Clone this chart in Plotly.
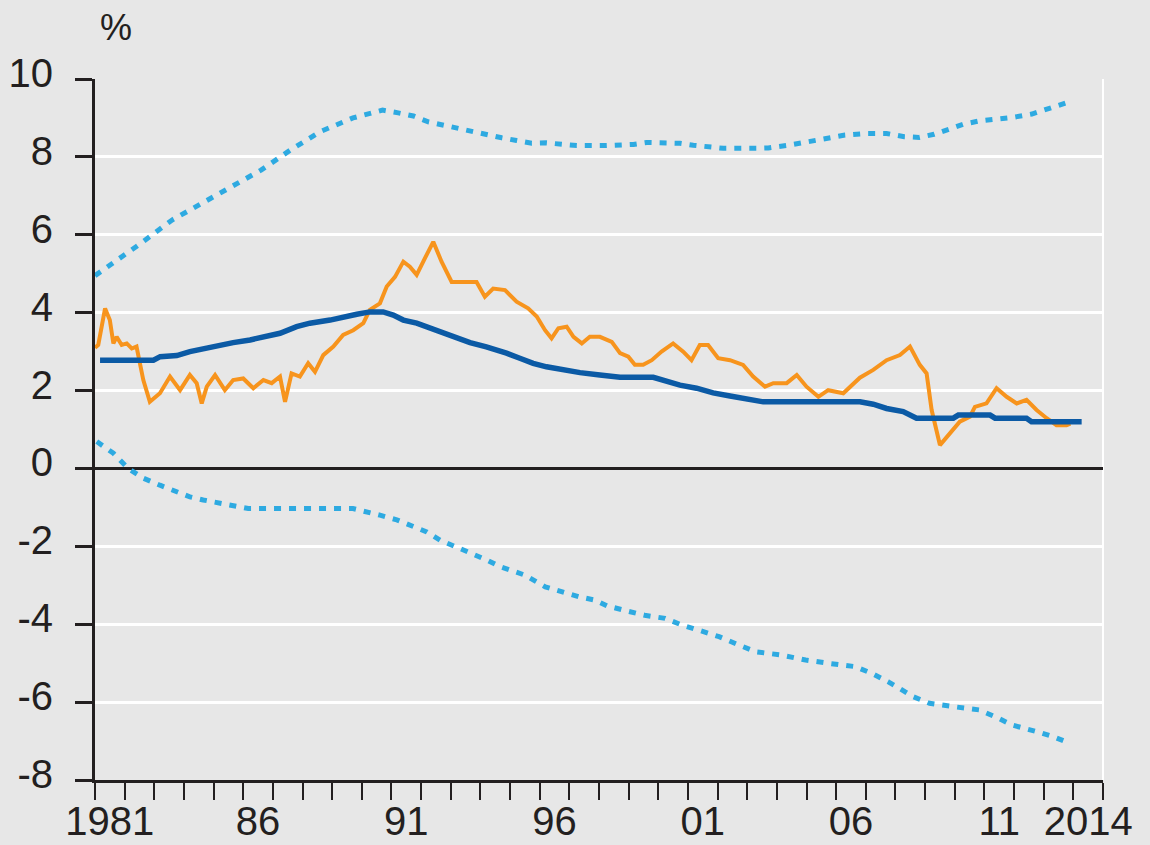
import plotly.graph_objects as go

# ---- data ---------------------------------------------------------------
tick_years = [1981.5, 1986.5, 1991.5, 1996.5, 2001.5, 2006.5, 2011.5, 2014.5]
tick_text = ["1981", "86", "91", "96", "01", "06", "11", "2014"]
year_bounds = list(range(1981, 2016))
y_ticks = [-8, -6, -4, -2, 0, 2, 4, 6, 8, 10]
y_tick_text = ["-8", "-6", "-4", "-2", "0", "2", "4", "6", "8", "10"]

actual_x = [1981.0, 1981.11, 1981.34, 1981.5, 1981.62, 1981.73, 1981.9, 1982.07, 1982.24, 1982.4,
            1982.63, 1982.85, 1983.19, 1983.53, 1983.87, 1984.2, 1984.43, 1984.6, 1984.77, 1985.05,
            1985.38, 1985.66, 1986.0, 1986.34, 1986.68, 1986.96, 1987.24, 1987.41, 1987.63, 1987.91,
            1988.19, 1988.42, 1988.7, 1989.04, 1989.37, 1989.71, 1990.05, 1990.27, 1990.61, 1990.84,
            1991.12, 1991.4, 1991.62, 1991.85, 1992.13, 1992.41, 1992.69, 1993.03, 1993.31, 1993.87,
            1994.15, 1994.43, 1994.83, 1995.22, 1995.61, 1995.9, 1996.18, 1996.4, 1996.63, 1996.91,
            1997.14, 1997.42, 1997.69, 1998.03, 1998.43, 1998.71, 1998.99, 1999.21, 1999.49, 1999.78,
            2000.11, 2000.5, 2000.84, 2001.12, 2001.4, 2001.68, 2002.02, 2002.42, 2002.86, 2003.2,
            2003.6, 2003.88, 2004.33, 2004.67, 2005.0, 2005.4, 2005.73, 2006.24, 2006.8, 2007.25,
            2007.7, 2008.15, 2008.49, 2008.82, 2009.05, 2009.22, 2009.5, 2009.84, 2010.17, 2010.51,
            2010.68, 2011.07, 2011.41, 2011.75, 2012.09, 2012.42, 2012.76, 2013.1, 2013.43, 2013.77,
            2013.9]
actual_y = [3.10, 3.17, 4.11, 3.81, 3.21, 3.38, 3.17, 3.21, 3.08, 3.13,
            2.27, 1.71, 1.93, 2.36, 2.01, 2.40, 2.19, 1.67, 2.10, 2.40,
            2.01, 2.27, 2.31, 2.06, 2.27, 2.19, 2.36, 1.71, 2.44, 2.36,
            2.70, 2.48, 2.91, 3.13, 3.43, 3.55, 3.73, 4.07, 4.24, 4.67,
            4.92, 5.31, 5.18, 4.97, 5.40, 5.82, 5.31, 4.79, 4.79, 4.79,
            4.41, 4.62, 4.58, 4.28, 4.11, 3.90, 3.55, 3.34, 3.60, 3.64,
            3.38, 3.21, 3.38, 3.38, 3.25, 2.96, 2.87, 2.66, 2.66, 2.78,
            3.00, 3.21, 3.00, 2.78, 3.17, 3.17, 2.83, 2.78, 2.66, 2.36,
            2.10, 2.19, 2.19, 2.40, 2.10, 1.84, 2.01, 1.93, 2.33, 2.53,
            2.78, 2.91, 3.13, 2.66, 2.44, 1.50, 0.60, 0.90, 1.20, 1.33,
            1.58, 1.67, 2.06, 1.84, 1.67, 1.76, 1.50, 1.29, 1.11, 1.11,
            1.15]

trend_x = [1981.17, 1982.97, 1983.2, 1983.76, 1984.2, 1984.65, 1985.1, 1985.66, 1986.23, 1986.68,
           1987.24, 1987.8, 1988.25, 1988.93, 1989.37, 1989.83, 1990.27, 1990.72, 1991.06, 1991.4,
           1991.85, 1992.3, 1992.75, 1993.2, 1993.65, 1994.2, 1994.5, 1994.88, 1995.33, 1995.78,
           1996.23, 1996.79, 1997.36, 1998.03, 1998.71, 1999.83, 2000.28, 2000.73, 2001.29, 2001.85,
           2002.42, 2002.98, 2003.54, 2006.8, 2007.25, 2007.7, 2008.26, 2008.71, 2009.95, 2010.12,
           2011.19, 2011.36, 2012.42, 2012.59, 2014.28]
trend_y = [2.78, 2.78, 2.87, 2.90, 3.00, 3.08, 3.14, 3.23, 3.30, 3.38,
           3.47, 3.64, 3.73, 3.81, 3.90, 3.96, 4.02, 4.02, 3.94, 3.81,
           3.73, 3.60, 3.47, 3.34, 3.23, 3.12, 3.06, 2.96, 2.83, 2.70,
           2.61, 2.53, 2.46, 2.40, 2.34, 2.34, 2.23, 2.14, 2.06, 1.94,
           1.86, 1.80, 1.71, 1.71, 1.65, 1.54, 1.46, 1.29, 1.29, 1.37,
           1.37, 1.29, 1.29, 1.20, 1.20]

upper_x = [1981.0, 1981.6, 1982.6, 1983.6, 1984.6, 1985.6, 1986.6, 1987.6, 1988.6, 1989.7,
           1990.7, 1991.23, 1991.74, 1992.24, 1992.69, 1993.2, 1993.7, 1994.21, 1994.72, 1995.22,
           1995.73, 1996.23, 1996.74, 1997.25, 1998.26, 1998.7, 1999.16, 1999.61, 2000.17, 2000.73,
           2001.18, 2001.74, 2002.19, 2003.32, 2003.71, 2004.4, 2005.0, 2005.6, 2006.3, 2007.0,
           2007.7, 2008.3, 2008.8, 2009.3, 2009.8, 2010.3, 2010.8, 2011.4, 2012.0, 2012.6,
           2013.2, 2013.9]
upper_y = [4.95, 5.27, 5.81, 6.38, 6.81, 7.23, 7.66, 8.18, 8.65, 9.00,
           9.20, 9.13, 9.05, 8.90, 8.82, 8.73, 8.66, 8.58, 8.49, 8.42,
           8.35, 8.36, 8.33, 8.29, 8.29, 8.29, 8.32, 8.37, 8.37, 8.35,
           8.30, 8.26, 8.22, 8.22, 8.23, 8.30, 8.38, 8.48, 8.56, 8.60,
           8.60, 8.52, 8.50, 8.58, 8.72, 8.84, 8.92, 8.96, 9.02, 9.10,
           9.25, 9.42]

lower_x = [1981.06, 1981.62, 1982.12, 1982.63, 1983.19, 1983.64, 1984.2, 1984.65, 1985.22, 1985.66,
           1986.17, 1989.7, 1990.16, 1990.61, 1991.18, 1991.62, 1992.19, 1992.64, 1993.2, 1993.65,
           1994.21, 1994.66, 1995.5, 1996.19, 1996.75, 1997.31, 1997.86, 1998.28, 1998.84, 1999.54,
           2000.23, 2000.79, 2001.35, 2002.05, 2002.74, 2003.3, 2004.14, 2004.97, 2005.81, 2006.65,
           2007.2, 2007.76, 2008.6, 2009.15, 2009.99, 2010.82, 2011.38, 2011.94, 2012.78, 2013.33,
           2013.89]
lower_y = [0.69, 0.39, 0.00, -0.25, -0.43, -0.55, -0.73, -0.81, -0.90, -0.97,
           -1.03, -1.03, -1.11, -1.20, -1.32, -1.45, -1.63, -1.84, -2.01, -2.18,
           -2.35, -2.52, -2.74, -3.04, -3.17, -3.29, -3.38, -3.53, -3.64, -3.77,
           -3.85, -4.02, -4.15, -4.32, -4.54, -4.71, -4.79, -4.92, -5.01, -5.09,
           -5.26, -5.48, -5.86, -6.03, -6.12, -6.20, -6.38, -6.59, -6.76, -6.89,
           -7.06]

# ---- styling ------------------------------------------------------------
BG = "#e7e7e7"
INK = "#231f20"
ORANGE = "#f7941d"
NAVY = "#0b5aa5"
SKY = "#2eaae1"
FONT = "Liberation Sans, Arial, sans-serif"

fig = go.Figure()

band_line = dict(color=SKY, width=5, dash="7px,8px")
fig.add_trace(go.Scatter(x=upper_x, y=upper_y, mode="lines", line=band_line, hoverinfo="skip"))
fig.add_trace(go.Scatter(x=lower_x, y=lower_y, mode="lines", line=band_line, hoverinfo="skip"))
fig.add_trace(go.Scatter(x=actual_x, y=actual_y, mode="lines",
                         line=dict(color=ORANGE, width=4)))
fig.add_trace(go.Scatter(x=trend_x, y=trend_y, mode="lines",
                         line=dict(color=NAVY, width=5.5)))

fig.update_layout(
    template="none",
    width=1150, height=845,
    margin=dict(l=95, r=47, t=79, b=65),
    paper_bgcolor=BG, plot_bgcolor=BG,
    showlegend=False,
    font=dict(family=FONT, size=40, color=INK),
)

fig.update_xaxes(
    range=[1981, 2015],
    tickmode="array", tickvals=tick_years, ticktext=tick_text,
    ticks="outside", ticklen=4, tickcolor="rgba(0,0,0,0)",
    ticklabelstandoff=0,
    showline=True, linecolor=INK, linewidth=3,
    showgrid=False, zeroline=False,
    minor=dict(tickmode="array", tickvals=year_bounds, ticks="outside",
               ticklen=17, tickwidth=2, tickcolor=INK, showgrid=False),
    tickfont=dict(size=40),
)

fig.update_yaxes(
    range=[-8, 10],
    tickmode="array", tickvals=y_ticks, ticktext=y_tick_text,
    ticks="outside", ticklen=17, tickwidth=3, tickcolor=INK,
    ticklabelstandoff=14, ticklabelshift=-6,
    showline=True, linecolor=INK, linewidth=3,
    showgrid=True, gridcolor="white", gridwidth=3,
    zeroline=True, zerolinecolor=INK, zerolinewidth=2.5,
    tickfont=dict(size=40),
)

# thin white frame on the right-hand edge of the plot area
fig.add_shape(type="line", xref="paper", yref="paper", x0=1, x1=1, y0=0, y1=1,
              line=dict(color="white", width=2), layer="below")

fig.add_annotation(text="%", xref="paper", yref="paper", x=0.021, y=1.073,
                   xanchor="center", yanchor="middle", showarrow=False,
                   font=dict(size=36, color=INK))

fig.write_html("out.html")
